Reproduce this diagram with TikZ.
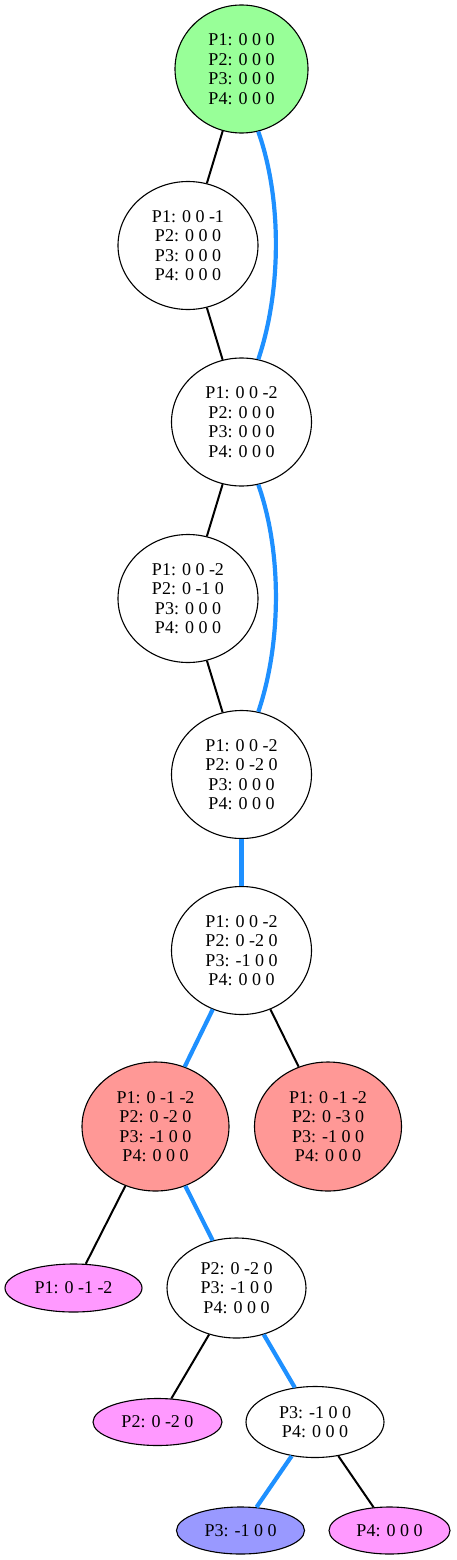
\documentclass[tikz,border=0pt]{standalone}
\usepackage{fontspec}
\setmainfont{Liberation Serif}
\usetikzlibrary{shapes.geometric}
\definecolor{gfill}{HTML}{98FF98}
\definecolor{rfill}{HTML}{FF9896}
\definecolor{mfill}{HTML}{FF99FF}
\definecolor{bfill}{HTML}{9999FF}
\definecolor{dblue}{HTML}{1E90FF}
\tikzset{
  st/.style={ellipse, draw=black, line width=1.1pt, inner sep=0pt, align=center,
    font=\fontsize{18}{19.5}\selectfont},
  big/.style={st, minimum width=140pt, minimum height=128pt},
  blk/.style={draw=black, line width=2pt},
  blu/.style={draw=dblue, line width=4.2pt},
}
\begin{document}
\begin{tikzpicture}[x=1pt,y=-1pt]
\useasboundingbox (0,0) rectangle (456,1560);
\node[big, fill=gfill, minimum width=133pt] (n1) at (241.5,69) {P1: 0 0 0\\P2: 0 0 0\\P3: 0 0 0\\P4: 0 0 0};
\node[big] (n2) at (188,245.5) {P1: 0 0 -1\\P2: 0 0 0\\P3: 0 0 0\\P4: 0 0 0};
\node[big] (n3) at (241.5,422) {P1: 0 0 -2\\P2: 0 0 0\\P3: 0 0 0\\P4: 0 0 0};
\node[big] (n4) at (188,598.5) {P1: 0 0 -2\\P2: 0 -1 0\\P3: 0 0 0\\P4: 0 0 0};
\node[big] (n5) at (241.5,774.5) {P1: 0 0 -2\\P2: 0 -2 0\\P3: 0 0 0\\P4: 0 0 0};
\node[big] (n6) at (241.5,950.5) {P1: 0 0 -2\\P2: 0 -2 0\\P3: -1 0 0\\P4: 0 0 0};
\node[big, fill=rfill, minimum width=147pt, minimum height=129pt] (n7) at (155.5,1126.5) {P1: 0 -1 -2\\P2: 0 -2 0\\P3: -1 0 0\\P4: 0 0 0};
\node[big, fill=rfill, minimum width=147pt, minimum height=129pt] (n8) at (328,1126.5) {P1: 0 -1 -2\\P2: 0 -3 0\\P3: -1 0 0\\P4: 0 0 0};
\node[st, fill=mfill, minimum width=137pt, minimum height=48pt] (n9) at (73.5,1288) {P1: 0 -1 -2};
\node[st, minimum width=139pt, minimum height=100pt] (n10) at (236.5,1288) {P2: 0 -2 0\\P3: -1 0 0\\P4: 0 0 0};
\node[st, fill=mfill, minimum width=129pt, minimum height=47pt] (n11) at (157.5,1422) {P2: 0 -2 0};
\node[st, minimum width=138pt, minimum height=71pt] (n12) at (315,1422) {P3: -1 0 0\\P4: 0 0 0};
\node[st, fill=bfill, minimum width=128pt, minimum height=47pt] (n13) at (240.5,1530.5) {P3: -1 0 0};
\node[st, fill=mfill, minimum width=121pt, minimum height=47pt] (n14) at (389.5,1530.5) {P4: 0 0 0};

\draw[blk] (n1) -- (n2);
\draw[blk] (n2) -- (n3);
\draw[blk] (n3) -- (n4);
\draw[blk] (n4) -- (n5);
\draw[blu] (n1.-75) .. controls +(24,68) and +(23,-68) .. (n3.75);
\draw[blu] (n3.-75) .. controls +(24,68) and +(23,-68) .. (n5.75);
\draw[blu] (n5) -- (n6);
\draw[blu] (n6) -- (n7);
\draw[blk] (n6) -- (n8);
\draw[blk] (n7) -- (n9);
\draw[blu] (n7) -- (n10);
\draw[blk] (n10) -- (n11);
\draw[blu] (n10) -- (n12);
\draw[blu] (n12) -- (n13);
\draw[blk] (n12) -- (n14);
\end{tikzpicture}
\end{document}
